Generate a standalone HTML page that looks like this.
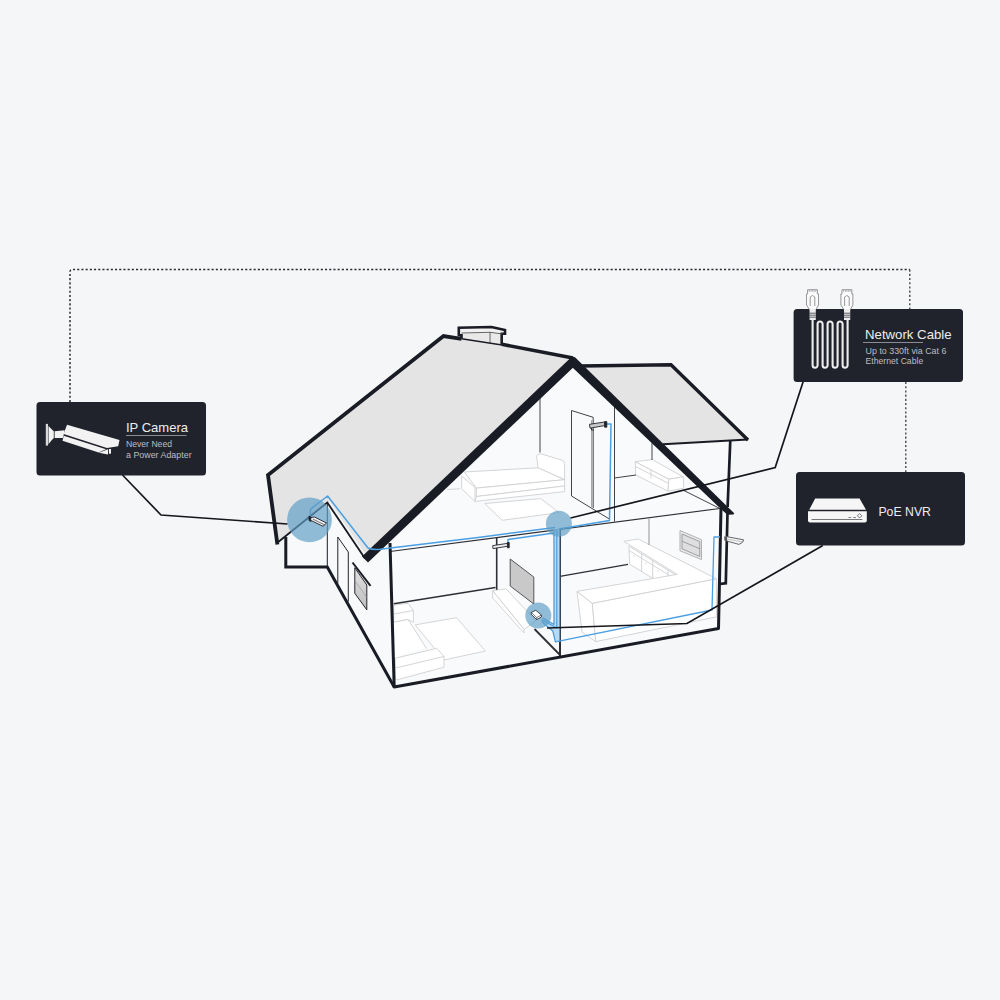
<!DOCTYPE html>
<html><head><meta charset="utf-8"><title>PoE System Diagram</title>
<style>
html,body{margin:0;padding:0;background:#f5f6f8;}
body{width:1000px;height:1000px;overflow:hidden;font-family:"Liberation Sans",sans-serif;}
svg{display:block}
text{font-family:"Liberation Sans",sans-serif;}
</style></head><body>
<svg width="1000" height="1000" viewBox="0 0 1000 1000">
<rect width="1000" height="1000" fill="#f5f6f8"/>

<!-- dotted connection -->
<g fill="none" stroke="#2b2c32" stroke-dasharray="2.1 2.1">
<path d="M70 402V272Q70 269.6 72.4 269.6H909.8" stroke-width="1.5"/>
<path d="M909.8 269.6V309" stroke-width="1.3" stroke="#3c3d43"/>
<path d="M905.8 382V472" stroke-width="1.3" stroke="#3c3d43"/>
</g>

<!-- HOUSE -->
<g id="house" stroke-linejoin="miter" stroke-linecap="butt">
<!-- interior light fill -->
<polygon points="390,544 573,366 722,509 718,628 394,686" fill="#f9fafb"/>
<polygon points="286,538 286,567 327,567 394,686 390,544 364,558 327,502.5" fill="#f8f9fa"/>
<polygon points="652,443 730,440 727,582 722,582 722,509" fill="#f8f9fa"/>

<!-- FURNITURE placeholder -->
<g id="furn" fill="#ffffff" stroke="#cfd0d3" stroke-width=".9" stroke-linejoin="round">
<!-- upper-left room: rug + bed -->
<polygon points="484.8,503.5 540.8,498.6 559,512.6 502.3,520.3"/>
<path d="M447 489.5L460 488.8" fill="none"/>
<path d="M536.6 456Q537 454 540.8 453.8L561.8 460.1Q564.6 461 564.6 463.6V479.7L538 467.8Z"/>
<polygon points="464.5,472 538,467.8 564.6,479.7 476.4,488.1"/>
<polygon points="476.4,488.1 564.6,479.7 564.6,486 476.4,496.5"/>
<polygon points="476.4,496.5 564.6,486 564.6,491.6 475,501.4"/>
<polygon points="461.7,476.2 475,487.4 475,501.4 461.7,488.8"/>
<!-- upper-right room: sofa -->
<polygon points="635.2,461.8 652,459.4 683.2,476.8 668.8,479.2"/>
<polygon points="635.2,461.8 668.8,479.2 668,491.2 635.8,475"/>
<polygon points="668.8,479.2 683.2,476.8 683.8,488.2 668,491.2"/>
<path d="M635.6 466.5L668.4 483.3M651 470V478.5" fill="none"/>
<!-- lower-left room: rug + L sofa + tv stand -->
<polygon points="415.2,624.9 456.6,617.7 485.4,651 444,660"/>
<polygon points="393.8,605.1 408,603.3 413.4,610.5 413.4,622.2 408,619.5 393.8,622.2"/>
<path d="M393.8 614.1L413.4 610.5" fill="none"/>
<polygon points="393.8,622.2 408,619.5 426,647.4 400,655 395.4,658.2" stroke="none"/>
<path d="M393.8 622.2L408 619.5L426.5 648.5" fill="none"/>
<polygon points="395.4,658.2 436.8,648.3 444,656.4 444,667.2 397.2,679.8 395.4,679"/>
<path d="M395.4 668.1L444 656.4" fill="none"/>
<polygon points="492.6,590.7 506,588.8 536,621 524,629.4"/>
<polygon points="492.6,590.7 524,629.4 524,633 492.6,597.9"/>
<!-- kitchen -->
<polygon points="628.9,546 680,577.6 680,595 629.7,564.2"/>
<path d="M641.6 554V571.5M652.7 561V578.4M668 570.5V580M629 550.5L672 577M634 555.2v1.6M646 562.6v1.6M658 570v1.6" fill="none"/>
<polygon points="577,591.4 592.3,603.3 595.7,641.6 582.1,632.2"/>
<polygon points="592.3,603.3 716.4,578.7 716.4,616.9 595.7,641.6"/>
<polygon points="577,591.4 677.3,574.4 623.8,541.3 638.2,539 716.4,578.7 592.3,603.3"/>
</g>

<!-- interior thin lines -->
<g fill="none" stroke="#2e2f36" stroke-width=".9">
<path d="M390 551.5L720 508.5" stroke-width="1.2"/>
<path d="M540 398V452.5"/>
<path d="M614.5 405V521.5"/>
<path d="M614.5 478L636 475"/>
<path d="M652 443V460"/>
<path d="M683.5 490.3L719.5 508.3"/>
<path d="M393.8 603.8L495.5 587.5" stroke-width="1.4"/>
<path d="M496.7 538V589.8" stroke-width="1.6"/>
<path d="M560 530V658" stroke-width="2"/>
<path d="M560 576.3L628 564.4" stroke-width="1.3"/>
<path d="M649 518.5V545" stroke="#888"/>
<path d="M534.5 629L560 655" stroke-width="1.8"/>
<!-- upper door -->
<path d="M571.5 496V410.5L593.2 417.3V508"/>
<path d="M571.5 496L609 518.8"/>
<path d="M591.7 420V507" stroke="#666" stroke-width=".7"/>
</g>


<!-- left wall door & window -->
<g fill="none" stroke="#23242b" stroke-width="1">
<path d="M337.8 583.5V537L348.3 552V601.5"/>
</g>
<linearGradient id="wg" x1="0" y1="0" x2="0" y2="1"><stop offset="0" stop-color="#e2e2e2"/><stop offset="1" stop-color="#bdbdbd"/></linearGradient>
<polygon points="354.8,567.8 366.8,585 366.8,609.8 354.8,593.3" fill="url(#wg)" stroke="#23242b" stroke-width="1"/>
<path d="M354.8 580.5L366.8 597.5" stroke="#9a9a9a" stroke-width=".7" fill="none"/>
<path d="M352.5 562.5L370.5 585.8" stroke="#1a1c25" stroke-width="2" fill="none"/>
<!-- TV -->
<polygon points="510.2,559 533.8,577 533.8,604 510.2,586" fill="#c9c9c9" stroke="#55565c" stroke-width="1"/>
<!-- right window -->
<polygon points="680,530.5 701.5,539.7 701.5,559.6 680,550.8" fill="#e9e9ea" stroke="#a9aaad" stroke-width=".9"/>
<polygon points="682,534 699.8,541.6 699.8,556.5 682,548.8" fill="#dedee0" stroke="#8c8d91" stroke-width=".8"/>
<path d="M682 541.2L699.8 548.8" stroke="#8c8d91" stroke-width=".8" fill="none"/>
<!-- roofs -->
<polygon points="581,366 671,364.8 746.5,439.5 663.5,444.3" fill="#e4e4e4"/>
<path d="M580 366L671 364.8L748 440" fill="none" stroke="#1a1c25" stroke-width="3.4"/>
<path d="M748 439.6L663 444.3" fill="none" stroke="#1a1c25" stroke-width="2"/>

<!-- chimney -->
<polygon points="461.5,339 461.5,333 490,332.3 501.7,334 501.7,345" fill="#e9e9e9"/>
<polygon points="458.8,334.8 458.8,327.8 491.5,327 505,330 505,333.8 490,332.3 461.5,333" fill="#f1f1f1"/>
<path d="M461.5 338.5V335.3H458.8V327.8L491.5 327L505 330V333.8H501.7V344.5" fill="none" stroke="#1a1c25" stroke-width="2.6"/>
<path d="M461.5 333L490 332.3L503 334M490 332.3V342.8" fill="none" stroke="#444" stroke-width=".8"/>

<!-- main roof -->
<polygon points="268,475 443.5,336 572,358 367,561 327.3,502.5 277,543" fill="#e4e4e4"/>
<path d="M277.4 544.5L268 475L443.5 336L461.5 338.8" fill="none" stroke="#1a1c25" stroke-width="3.8"/>
<path d="M501.7 344.3L573 358" fill="none" stroke="#1a1c25" stroke-width="3.6"/>
<path d="M461.5 338.7L502 345" fill="none" stroke="#1a1c25" stroke-width="1.5"/>
<path d="M328.9 501.6L366.6 557.6" fill="none" stroke="#f4f4f5" stroke-width="1.7"/>
<path d="M277 543L327.3 502.5L365 558.5" fill="none" stroke="#1a1c25" stroke-width="1.8"/>
<!-- thick front gable band -->
<polygon points="572,356.5 362,556.5 368,562.5 573.2,367.5" fill="#1a1c25"/>
<polygon points="571,356.5 575,357.2 734.2,513.3 733.6,514.5 727.4,514.7 719.6,507.8 572.5,367.5" fill="#1a1c25"/>

<!-- walls -->
<g fill="none" stroke="#1a1c25">
<path d="M285.8 537V567H327.3L394.2 687" stroke-width="3"/>
<path d="M327.3 502.5V567" stroke-width="1"/>
<path d="M390 543L394.2 687L718.5 628.5L721 508" stroke-width="3" stroke-linejoin="round"/>
<path d="M730.3 440L727.6 507M727.5 513L725.8 583.2L720 584" stroke-width="2.7"/>
</g>
</g>

<!-- blue cables -->
<polygon points="553.4,529 559.8,529 559.8,641 555.2,642 552.6,631 541,619.5 543,617.5 553.4,623.5" fill="#b9d9f1"/>
<g fill="none" stroke="#4a9fe2" stroke-width="1.5" stroke-linejoin="round">
<path d="M310.4 515.5V510.5Q310.4 509.2 311.5 508.4L327.6 496L368 548Q372 550 380 549.3L480 537.2L555 527.6"/>
<path d="M508 543.5V539.6L554 533"/>
<path d="M607 424H611L609.5 520.5L559 529"/>
<path d="M554 529V624.5L543 618M556.8 529V628L542 620M559.6 529V641.2" stroke-width="1.2"/>
<path d="M541.5 621.5L552.8 631L555.4 641.8L712 610L714 537H720" stroke-width="1.3"/>
</g>

<!-- blue circles -->
<circle cx="309.5" cy="519.8" r="22.4" fill="#5f9dc6" fill-opacity=".68"/>
<circle cx="558.9" cy="523.8" r="13" fill="#5f9dc6" fill-opacity=".68"/>
<circle cx="538.3" cy="615.5" r="13" fill="#5f9dc6" fill-opacity=".68"/>


<!-- small cameras -->
<g stroke="#23242b" stroke-width=".9" stroke-linejoin="round">
<path d="M309 516.2L311 517.2V521.5L309 520.5Z" fill="#23242b"/>
<polygon points="314.5,517 326.5,523 323,526.3 310.5,520.2 311,517.6" fill="#ededee"/>
<path d="M313 519.2L324.5 524.8" fill="none" stroke-width=".6"/>
<rect x="604.6" y="421.6" width="2.2" height="5.6" fill="#23242b"/>
<polygon points="589.5,424.3 604.5,422 604.5,425.6 590,428.2" fill="#c8c8c8"/>
<path d="M591.5 428V430H594" fill="none"/>
<rect x="507.4" y="542.5" width="1.8" height="5.3" fill="#23242b"/>
<polygon points="492.7,545.6 507.4,543.4 507.4,546.3 493,548.6" fill="#ededee"/>
<path d="M724.3 536.2L726.4 536.8V541L724.3 540.4Z" fill="#55565c" stroke="none"/>
<polygon points="726.4,536.6 743.6,539.8 742.8,542 739,544.4 726.8,541" fill="#f7f7f7" stroke="#55565c"/>
<path d="M727 539L742.8 542" fill="none" stroke="#9a9a9a" stroke-width=".6"/>
<!-- NVR box -->
<polygon points="531.3,612.3 535.8,610.3 541.4,615 541.4,617 536.7,619.6 531.3,614.3" fill="#ffffff" stroke-width=".8"/>
<path d="M531.3 612.3L536.7 617.6L541.4 615M536.7 617.6V619.6" fill="none" stroke-width=".6"/>
</g>
<!-- leaders -->
<g fill="none" stroke="#16171d" stroke-width="1.7" stroke-linejoin="miter">
<path d="M122.5 475L161 515L287.5 524"/>
<path d="M803.2 381.5L775.2 467.5L570.5 518"/>
<path d="M822.8 545.5L687 623.5L547 628"/>
</g>

<!-- LABELS -->
<g id="label-ip">
<rect x="36.5" y="402" width="169.5" height="73.5" rx="3.5" fill="#21232c"/>
<g fill="#f2f2f2">
<rect x="45.8" y="423.9" width="2.2" height="21.7" fill="#d9d9db"/>
<path d="M48.5 426Q52.2 430 53.8 431.2V438Q52.2 439.5 48.5 444.3Z"/>
<polygon points="54.6,431.2 64.7,430.3 63,438 54.6,438"/>
<polygon points="67,424.8 119.5,440.1 118.2,446.2 107,447.9 63.6,434.1"/>
<polygon points="63.8,435.7 106,449.3 98.6,452.6 62.5,440.7"/>
<polygon points="98.9,452.8 108,449.3 108,454.6"/>
<rect x="108.9" y="449" width="2.1" height="4.7"/>
</g>
<text x="126" y="432.4" font-size="13" fill="#ededee" textLength="62" lengthAdjust="spacingAndGlyphs">IP Camera</text>
<rect x="126" y="435.1" width="60.5" height=".7" fill="#b9babf"/>
<text x="126" y="447" font-size="8.8" fill="#bcbdc2" textLength="46" lengthAdjust="spacingAndGlyphs">Never Need</text>
<text x="126" y="457.6" font-size="8.8" fill="#bcbdc2" textLength="65.6" lengthAdjust="spacingAndGlyphs">a Power Adapter</text>
</g>

<g id="label-net">
<rect x="793.6" y="309" width="169.4" height="73" rx="3.5" fill="#21232c"/>
<g>
<g fill="#fbfbfb" stroke="#7d7e84" stroke-width=".8" stroke-linejoin="round">
<path id="plug" d="M807.6 294V289.7H817.4V294H818.5V305L816 309.5H809.5L806.5 305V294Z"/>
<path d="M810.2 306V297L812.5 295.5L814.8 297V306" fill="none"/>
<path d="M809.3 289.9V292M811 289.9V292M812.6 289.9V292M814.2 289.9V292M815.8 289.9V292" fill="none" stroke-width=".5"/>
</g>
<g fill="#fbfbfb" stroke="#7d7e84" stroke-width=".8" stroke-linejoin="round" transform="translate(34.4 0)">
<path d="M807.6 294V289.7H817.4V294H818.5V305L816 309.5H809.5L806.5 305V294Z"/>
<path d="M810.2 306V297L812.5 295.5L814.8 297V306" fill="none"/>
<path d="M809.3 289.9V292M811 289.9V292M812.6 289.9V292M814.2 289.9V292M815.8 289.9V292" fill="none" stroke-width=".5"/>
</g>
<rect x="809.6" y="309" width="6.2" height="11" fill="#ededee"/>
<rect x="844" y="309" width="6.2" height="11" fill="#ededee"/>
<path d="M809.6 313.2h6.2M809.6 315.2h6.2M809.6 317.2h6.2M844 313.2h6.2M844 315.2h6.2M844 317.2h6.2" stroke="#21232c" stroke-width=".7"/>
<path d="M812.6 320V365.3a2.5 2.5 0 0 0 5 0V324a2.5 2.5 0 0 1 5 0V365.3a2.5 2.5 0 0 0 5 0V324a2.5 2.5 0 0 1 5 0V365.3a2.5 2.5 0 0 0 5 0V324a2.5 2.5 0 0 1 5 0V365.3a2.5 2.5 0 0 0 5 0V320" fill="none" stroke="#ededee" stroke-width="2.1"/>
</g>
<text x="865" y="339" font-size="13" fill="#ededee" textLength="86.6" lengthAdjust="spacingAndGlyphs">Network Cable</text>
<rect x="863" y="342.1" width="60" height=".7" fill="#b9babf"/>
<text x="865.6" y="354" font-size="8.8" fill="#bcbdc2" textLength="80.8" lengthAdjust="spacingAndGlyphs">Up to 330ft via Cat 6</text>
<text x="865.6" y="364.4" font-size="8.8" fill="#bcbdc2" textLength="57.6" lengthAdjust="spacingAndGlyphs">Ethernet Cable</text>
</g>

<g id="label-nvr">
<rect x="796" y="472" width="169" height="73.5" rx="3.5" fill="#21232c"/>
<g fill="#f6f6f6">
<polygon points="815.2,498.4 859.6,498.4 866,509.7 809.2,509.7"/>
<path d="M808 511.2H866.8V520.4a2 2 0 0 1-2 2H810a2 2 0 0 1-2-2Z"/>
<rect x="811.6" y="519" width="50.8" height=".8" fill="#55565c"/>
<rect x="848.4" y="517.1" width="2.8" height=".7" fill="#55565c"/>
<rect x="853.2" y="517.1" width="2.8" height=".7" fill="#55565c"/>
<path d="M859.6 513.6L861.8 515.8L859.6 518L857.4 515.8Z" fill="none" stroke="#55565c" stroke-width=".8"/>
</g>
<text x="878.4" y="515.6" font-size="13" fill="#ededee" textLength="52.6" lengthAdjust="spacingAndGlyphs">PoE NVR</text>
</g>
</svg>
</body></html>
